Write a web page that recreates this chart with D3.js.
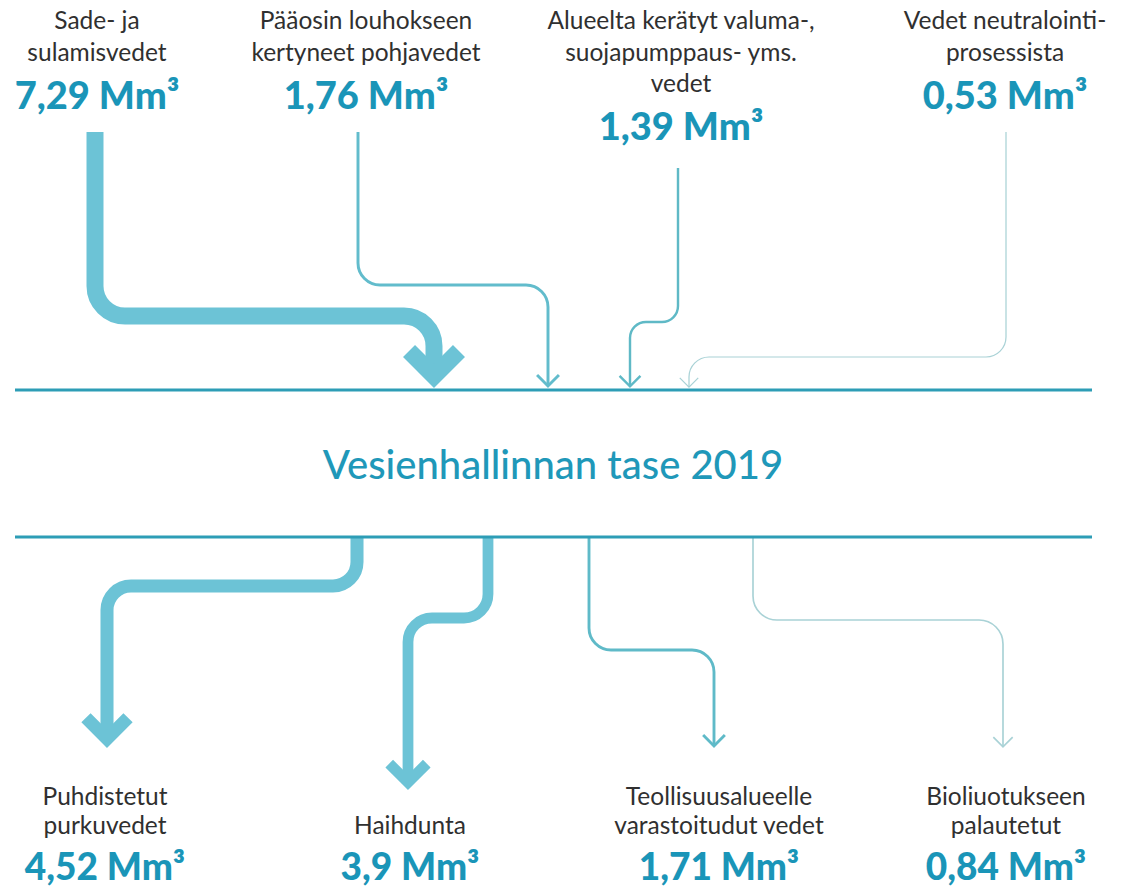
<!DOCTYPE html>
<html>
<head>
<meta charset="utf-8">
<script src="https://cdn.jsdelivr.net/npm/d3@7"></script>
<style>
  html, body { margin: 0; padding: 0; background: #ffffff; }
  svg { display: block; }
</style>
</head>
<body>
<svg id="chart"></svg>
<script>
// Vesienhallinnan tase 2019 — water balance flows

const title = "Vesienhallinnan tase 2019";

const inLabels = [
  ["Sade- ja", "sulamisvedet"],
  ["Pääosin louhokseen", "kertyneet pohjavedet"],
  ["Alueelta kerätyt valuma-,", "suojapumppaus- yms.", "vedet"],
  ["Vedet neutralointi-", "prosessista"]
];
const inValues = [7.29, 1.76, 1.39, 0.53];

const outLabels = [
  ["Puhdistetut", "purkuvedet"],
  ["", "Haihdunta"],
  ["Teollisuusalueelle", "varastoitudut vedet"],
  ["Bioliuotukseen", "palautetut"]
];
const outValues = [4.52, 3.9, 1.71, 0.84];

const unit = "Mm³";

// ── layout (positions of the routed arrows and text columns) ─────────────
const W = 1127, H = 887;
const topLine = 390, bottomLine = 537;

const inLayout = [
  { cx: 97,   route: [[95, 132], [95, 316], [434, 316], [434, 388]], r: 30, color: "#6cc3d6" },
  { cx: 366,  route: [[358, 132], [358, 285], [548, 285], [548, 388]], r: 22, color: "#62bccc" },
  { cx: 681,  route: [[678, 168], [678, 322], [630, 322], [630, 388]], r: 16, color: "#5fb9c6" },
  { cx: 1005, route: [[1006, 132], [1006, 357], [689, 357], [689, 388]], r: 20, color: "#a9d2d6" }
];
const outLayout = [
  { cx: 105,  route: [[357, 537], [357, 586], [107, 586], [107, 748]], r: 24, color: "#6cc3d6" },
  { cx: 410,  route: [[488, 537], [488, 618], [408, 618], [408, 790]], r: 24, color: "#6cc3d6" },
  { cx: 719,  route: [[589, 537], [589, 650], [714, 650], [714, 748]], r: 22, color: "#5fbac8" },
  { cx: 1006, route: [[753, 537], [753, 620], [1003, 620], [1003, 748]], r: 24, color: "#a9d2d6" }
];

const widthScale = d3.scaleLinear()
  .domain([0.5, 1.8, 4.5, 7.3])
  .range([1.2, 3, 13, 17]);

const fmt = v => String(v).replace(".", ",") + " " + unit;

const svg = d3.select("#chart")
  .attr("width", W).attr("height", H)
  .attr("viewBox", `0 0 ${W} ${H}`);

// rounded orthogonal route, ending a bit above the tip so the chevron's miter lands on it
function routePath(pts, r, w) {
  const p = d3.path();
  const last = pts.length - 1;
  const tipOff = w * 0.707;
  p.moveTo(pts[0][0], pts[0][1]);
  for (let i = 1; i < last; i++) {
    p.arcTo(pts[i][0], pts[i][1], pts[i + 1][0], pts[i + 1][1], r);
  }
  p.lineTo(pts[last][0], pts[last][1] - tipOff);
  return p.toString();
}

function chevron(pt, w) {
  const a = 8 + w * 1.0;
  const x = pt[0], y = pt[1] - w * 0.707;
  return `M${x - a},${y - a}L${x},${y}L${x + a},${y - a}`;
}

function drawFlows(values, layout, cls) {
  const g = svg.append("g").attr("class", cls);
  const flows = g.selectAll("g.flow")
    .data(values.map((v, i) => ({ v, ...layout[i] })))
    .enter().append("g").attr("class", "flow");

  flows.append("path")
    .attr("d", d => routePath(d.route, d.r, widthScale(d.v)))
    .attr("fill", "none")
    .attr("stroke", d => d.color)
    .attr("stroke-width", d => widthScale(d.v))
    .attr("stroke-linejoin", "round");

  flows.append("path")
    .attr("d", d => chevron(d.route[d.route.length - 1], widthScale(d.v)))
    .attr("fill", "none")
    .attr("stroke", d => d.color)
    .attr("stroke-width", d => widthScale(d.v))
    .attr("stroke-linejoin", "miter")
    .attr("stroke-miterlimit", 4);
}

drawFlows(inValues, inLayout, "inflows");
drawFlows(outValues, outLayout, "outflows");

// the two balance rules
svg.selectAll("line.rule")
  .data([topLine, bottomLine]).enter().append("line")
  .attr("class", "rule")
  .attr("x1", 15).attr("x2", 1092)
  .attr("y1", d => d).attr("y2", d => d)
  .attr("stroke", "#2d9db6")
  .attr("stroke-width", 3);

svg.append("text")
  .attr("x", 553).attr("y", 479)
  .attr("text-anchor", "middle")
  .attr("font-family", "Lato, 'Open Sans', sans-serif")
  .attr("font-size", 40)
  .attr("font-weight", 500)
  .attr("fill", "#1f98b9")
  .text(title);

const labelFont = "Lato, 'Open Sans', sans-serif";

function drawLabels(labels, values, layout, firstY, lineH, valueGap, valueSize) {
  labels.forEach((lines, i) => {
    const cx = layout[i].cx;
    lines.forEach((s, k) => {
      if (!s) return;
      svg.append("text")
        .attr("x", cx).attr("y", firstY + k * lineH)
        .attr("text-anchor", "middle")
        .attr("font-family", labelFont)
        .attr("font-size", 24.5)
        .attr("fill", "#303030")
        .text(s);
    });
    svg.append("text")
      .attr("x", cx).attr("y", firstY + (lines.length - 1) * lineH + valueGap)
      .attr("text-anchor", "middle")
      .attr("font-family", labelFont)
      .attr("font-size", valueSize)
      .attr("font-weight", 900)
      .attr("fill", "#1a95b8")
      .text(fmt(values[i]));
  });
}

drawLabels(inLabels, inValues, inLayout, 29, 31.5, 48, 38);
drawLabels(outLabels, outValues, outLayout, 805, 29, 46, 37);
</script>
</body>
</html>
